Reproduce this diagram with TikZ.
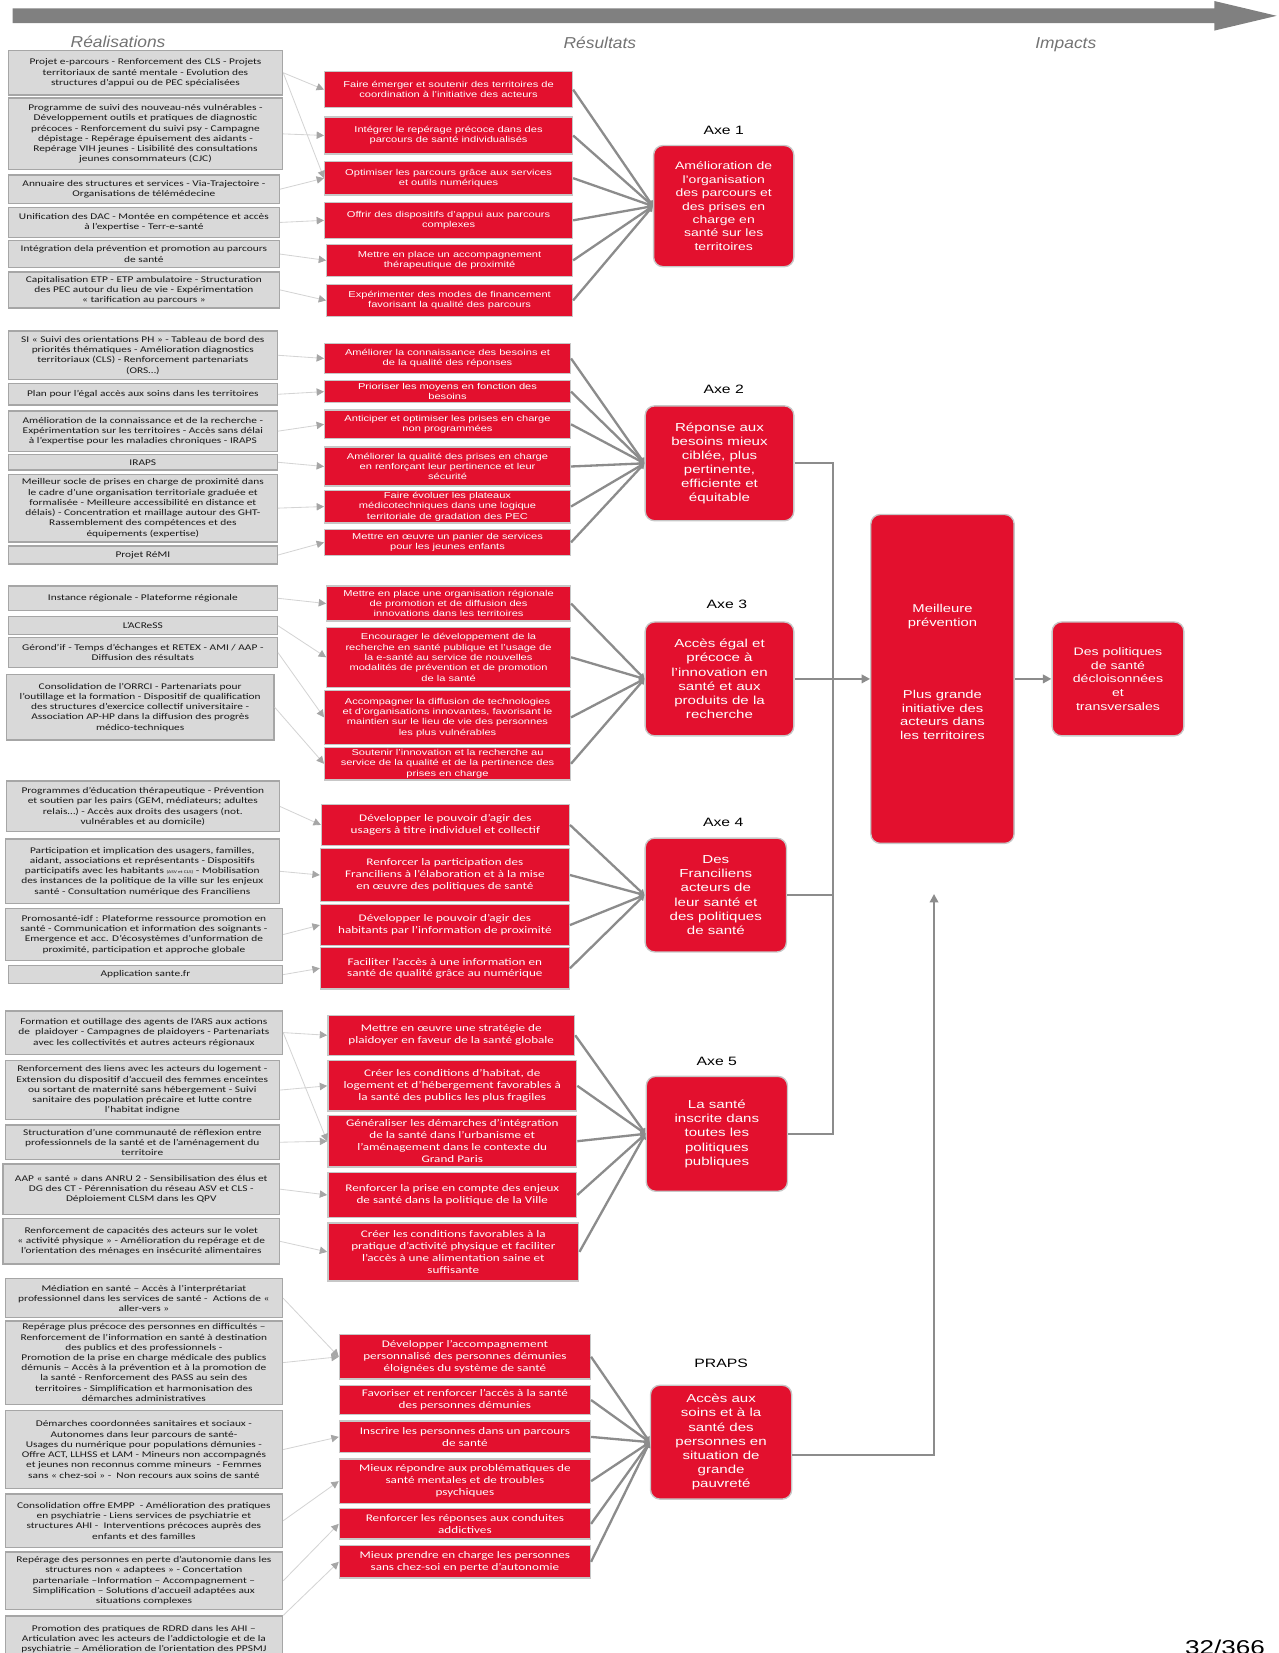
\documentclass[tikz,border=0pt]{standalone}
\usepackage{fontspec}
\setmainfont{Liberation Sans}[FakeStretch=1.3]
\newfontfamily\calibri{Carlito}[FakeStretch=1.3]
\newfontfamily\titrefont{Liberation Sans}[FakeStretch=1.1]
\usetikzlibrary{positioning,arrows.meta}
\definecolor{rougears}{HTML}{E3102E}
\definecolor{grisfond}{HTML}{D9D9D9}
\definecolor{grisbord}{HTML}{A6A6A6}
\definecolor{grislien}{HTML}{D4D4D4}
\definecolor{grisfleche}{HTML}{8C8C8C}
\newcommand{\boite}[6]{\node[#1, minimum width={(#4-#2)*1pt}, minimum height={(#5-#3)*1pt}]
  (#6) at ({(#2+#4)/2},{(#3+#5)/2})}
\tikzset{
  realis/.style={draw=grisbord, line width=1.3pt, fill=grisfond, inner sep=0pt,
    align=center, text=black!90, font=\calibri\fontsize{8.3}{9.7}\selectfont},
  resultat/.style={draw=black!22, line width=1.3pt, fill=rougears, inner sep=0pt,
    align=center, text=white, font=\fontsize{8.1}{9.8}\selectfont},
  resultatc/.style={resultat, font=\calibri\fontsize{9.6}{11.3}\selectfont},
  axe/.style={draw=black!22, line width=1.3pt, fill=rougears, rounded corners=9pt,
    inner sep=0pt, align=center, text=white, font=\fontsize{11}{13.4}\selectfont},
  axelabel/.style={font=\fontsize{11.5}{13}\selectfont, inner sep=0pt},
  titre/.style={font=\titrefont\itshape\fontsize{15}{17}\selectfont, text=black!55},
  lien/.style={draw=grislien, line width=0.8pt,
    -{Triangle[length=7pt,width=7pt,color=black!35]}},
  conv/.style={draw=grisfleche, line width=2.2pt, -{Triangle[length=5pt,width=6pt]}},
  tronc/.style={draw=grisfleche, line width=2.2pt},
  grande/.style={tronc, -{Triangle[length=8pt,width=8pt]}}
}
\begin{document}
\begin{tikzpicture}[x=1pt,y=-1pt]
\useasboundingbox (0,0) rectangle (1213,1568);
\fill[black!50] (12,8) -- (1152,8) -- (1152,1) -- (1211,15) -- (1152,29) -- (1152,22)
  -- (12,22) -- cycle;
\node[titre] (realisations) at (112,40) {Réalisations};
\node[titre] (resultats) at (569,41) {Résultats};
\node[titre] (impacts) at (1011,42) {Impacts};

\boite{realis}{8}{48}{268}{90}{L1} {Projet e-parcours - Renforcement des CLS - Projets\\territoriaux de santé mentale - Evolution des\\structures d’appui ou de PEC spécialisées};
\boite{realis}{8}{93}{268}{161}{L2} {Programme de suivi des nouveau-nés vulnérables -\\Développement outils et pratiques de diagnostic\\précoces - Renforcement du suivi psy - Campagne\\dépistage - Repérage épuisement des aidants -\\Repérage VIH jeunes - Lisibilité des consultations\\jeunes consommateurs (CJC)};
\boite{realis}{8}{166}{265}{193}{L3} {Annuaire des structures et services - Via-Trajectoire -\\Organisations de télémédecine};
\boite{realis}{8}{197}{265}{225}{L4} {Unification des DAC - Montée en compétence et accès\\à l’expertise - Terr-e-santé};
\boite{realis}{8}{228}{265}{254}{L5} {Intégration dela prévention et promotion au parcours\\de santé};
\boite{realis}{8}{258}{265}{292}{L6} {Capitalisation ETP - ETP ambulatoire - Structuration\\des PEC autour du lieu de vie - Expérimentation\\« tarification au parcours »};

\boite{realis}{8}{314}{263}{360}{L7} {SI « Suivi des orientations PH » - Tableau de bord des\\priorités thématiques - Amélioration diagnostics\\territoriaux (CLS) - Renforcement partenariats\\(ORS…)};
\boite{realis}{8}{364}{263}{384}{L8} {Plan pour l’égal accès aux soins dans les territoires};
\boite{realis}{8}{390}{263}{428}{L9} {Amélioration de la connaissance et de la recherche -\\Expérimentation sur les territoires - Accès sans délai\\à l’expertise pour les maladies chroniques - IRAPS};
\boite{realis}{8}{431}{263}{446}{L10} {IRAPS};
\boite{realis}{8}{450}{263}{514}{L11} {Meilleur socle de prises en charge de proximité dans\\le cadre d’une organisation territoriale graduée et\\formalisée - Meilleure accessibilité en distance et\\délais) - Concentration et maillage autour des GHT-\\Rassemblement des compétences et des\\équipements (expertise)};
\boite{realis}{8}{518}{263}{535}{L12} {Projet RéMI};

\boite{realis}{8}{556}{263}{579}{L13} {Instance régionale - Plateforme régionale};
\boite{realis}{8}{585}{263}{602}{L14} {L’ACReSS};
\boite{realis}{8}{605}{263}{633}{L15} {Gérond’if - Temps d’échanges et RETEX - AMI / AAP -\\Diffusion des résultats};
\boite{realis}{6}{640}{260}{702}{L16} {Consolidation de l’ORRCI - Partenariats pour\\l’outillage et la formation - Dispositif de qualification\\des structures d’exercice collectif universitaire -\\Association AP-HP dans la diffusion des progrès\\médico-techniques};

\boite{realis}{6}{741}{265}{789}{L17} {Programmes d’éducation thérapeutique - Prévention\\et soutien par les pairs (GEM, médiateurs; adultes\\relais…) - Accès aux droits des usagers (not.\\vulnérables et au domicile)};
\boite{realis}{5}{796}{265}{857}{L18} {Participation et implication des usagers, familles,\\aidant, associations et représentants - Dispositifs\\participatifs avec les habitants {\fontsize{4}{4}\selectfont(ASV et CLS)} - Mobilisation\\des instances de la politique de la ville sur les enjeux\\santé - Consultation numérique des Franciliens};
\boite{realis}{5}{862}{268}{911}{L19} {Promosanté-idf : Plateforme ressource promotion en\\santé - Communication et information des soignants -\\Emergence et acc. D’écosystèmes d’unformation de\\proximité, participation et approche globale};
\boite{realis}{8}{916}{268}{933}{L20} {Application sante.fr};

\boite{realis}{5}{959}{268}{1000}{L21} {Formation et outillage des agents de l’ARS aux actions\\de~ plaidoyer - Campagnes de plaidoyers - Partenariats\\avec les collectivités et autres acteurs régionaux};
\boite{realis}{5}{1006}{265}{1062}{L22} {Renforcement des liens avec les acteurs du logement -\\Extension du dispositif d’accueil des femmes enceintes\\ou sortant de maternité sans hébergement - Suivi\\sanitaire des population précaire et lutte contre\\l’habitat indigne};
\boite{realis}{5}{1067}{265}{1100}{L23} {Structuration d’une communauté de réflexion entre\\professionnels de la santé et de l’aménagement du\\territoire};
\boite{realis}{3}{1104}{265}{1152}{L24} {AAP « santé » dans ANRU 2 - Sensibilisation des élus et\\DG des CT - Pérennisation du réseau ASV et CLS -\\Déploiement CLSM dans les QPV};
\boite{realis}{3}{1156}{265}{1199}{L25} {Renforcement de capacités des acteurs sur le volet\\« activité physique » - Amélioration du repérage et de\\l’orientation des ménages en insécurité alimentaires};

\boite{realis}{5}{1213}{268}{1250}{L26} {Médiation en santé – Accès à l’interprétariat\\professionnel dans les services de santé -~ Actions de «\\aller-vers »};
\boite{realis}{5}{1253}{268}{1332}{L27} {Repérage plus précoce des personnes en difficultés –\\Renforcement de l’information en santé à destination\\des publics et des professionnels -\\Promotion de la prise en charge médicale des publics\\démunis – Accès à la prévention et à la promotion de\\la santé - Renforcement des PASS au sein des\\territoires - Simplification et harmonisation des\\démarches administratives};
\boite{realis}{5}{1338}{268}{1412}{L28} {Démarches coordonnées sanitaires et sociaux -\\Autonomes dans leur parcours de santé-\\Usages du numérique pour populations démunies -\\Offre ACT, LLHSS et LAM - Mineurs non accompagnés\\et jeunes non reconnus comme mineurs~ - Femmes\\sans « chez-soi » -~ Non recours aux soins de santé};
\boite{realis}{5}{1417}{268}{1468}{L29} {Consolidation offre EMPP~ - Amélioration des pratiques\\en psychiatrie - Liens services de psychiatrie et\\structures AHI -~ Interventions précoces auprès des\\enfants et des familles};
\boite{realis}{5}{1472}{268}{1527}{L30} {Repérage des personnes en perte d’autonomie dans les\\structures non « adaptees » - Concertation\\partenariale –Information – Accompagnement –\\Simplification – Solutions d’accueil adaptées aux\\situations complexes};
\boite{realis}{5}{1533}{268}{1577}{L31} {Promotion des pratiques de RDRD dans les AHI –\\Articulation avec les acteurs de l’addictologie et de la\\psychiatrie – Amélioration de l’orientation des PPSMJ};

\boite{resultat}{308}{68}{543}{102}{M1} {Faire émerger et soutenir des territoires de\\coordination à l’initiative des acteurs};
\boite{resultat}{308}{111}{543}{146}{M2} {Intégrer le repérage précoce dans des\\parcours de santé individualisés};
\boite{resultat}{308}{153}{543}{185}{M3} {Optimiser les parcours grâce aux services\\et outils numériques};
\boite{resultat}{308}{192}{543}{226}{M4} {Offrir des dispositifs d’appui aux parcours\\complexes};
\boite{resultat}{310}{232}{543}{262}{M5} {Mettre en place un accompagnement\\thérapeutique de proximité};
\boite{resultat}{310}{270}{543}{300}{M6} {Expérimenter des modes de financement\\favorisant la qualité des parcours};

\boite{resultat}{308}{326}{541}{354}{M7} {Améliorer la connaissance des besoins et\\de la qualité des réponses};
\boite{resultat}{308}{361}{541}{382}{M8} {Prioriser les moyens en fonction des\\besoins};
\boite{resultat}{308}{389}{541}{416}{M9} {Anticiper et optimiser les prises en charge\\non programmées};
\boite{resultat}{308}{424}{541}{461}{M10} {Améliorer la qualité des prises en charge\\en renforçant leur pertinence et leur\\sécurité};
\boite{resultat}{308}{465}{541}{496}{M11} {Faire évoluer les plateaux\\médicotechniques dans une logique\\territoriale de gradation des PEC};
\boite{resultat}{308}{502}{541}{527}{M12} {Mettre en œuvre un panier de services\\pour les jeunes enfants};

\boite{resultat}{310}{556}{541}{589}{M13} {Mettre en place une organisation régionale\\de promotion et de diffusion des\\innovations dans les territoires};
\boite{resultat}{310}{595}{541}{652}{M14} {Encourager le développement de la\\recherche en santé publique et l’usage de\\la e-santé au service de nouvelles\\modalités de prévention et de promotion\\de la santé};
\boite{resultat}{308}{655}{541}{706}{M15} {Accompagner la diffusion de technologies\\et d’organisations innovantes, favorisant le\\maintien sur le lieu de vie des personnes\\les plus vulnérables};
\boite{resultat}{308}{709}{541}{740}{M16} {Soutenir l’innovation et la recherche au\\service de la qualité et de la pertinence des\\prises en charge};

\boite{resultatc}{305}{763}{540}{802}{M17} {Développer le pouvoir d’agir des\\usagers à titre individuel et collectif};
\boite{resultatc}{304}{805}{540}{855}{M18} {Renforcer la participation des\\Franciliens à l’élaboration et à la mise\\en œuvre des politiques de santé};
\boite{resultatc}{304}{858}{540}{897}{M19} {Développer le pouvoir d’agir des\\habitants par l’information de proximité};
\boite{resultatc}{304}{899}{540}{938}{M20} {Faciliter l’accès à une information en\\santé de qualité grâce au numérique};

\boite{resultatc}{311}{963}{545}{1001}{M21} {Mettre en œuvre une stratégie de\\plaidoyer en faveur de la santé globale};
\boite{resultatc}{311}{1006}{547}{1054}{M22} {Créer les conditions d’habitat, de\\logement et d’hébergement favorables à\\la santé des publics les plus fragiles};
\boite{resultatc}{311}{1058}{547}{1107}{M23} {Généraliser les démarches d’intégration\\de la santé dans l’urbanisme et\\l’aménagement dans le contexte du\\Grand Paris};
\boite{resultatc}{311}{1112}{547}{1155}{M24} {Renforcer la prise en compte des enjeux\\de santé dans la politique de la Ville};
\boite{resultatc}{311}{1160}{549}{1215}{M25} {Créer les conditions favorables à la\\pratique d’activité physique et faciliter\\l’accès à une alimentation saine et\\suffisante};

\boite{resultatc}{322}{1266}{560}{1308}{M26} {Développer l’accompagnement\\personnalisé des personnes démunies\\éloignées du système de santé};
\boite{resultatc}{322}{1314}{560}{1342}{M27} {Favoriser et renforcer l’accès à la santé\\des personnes démunies};
\boite{resultatc}{322}{1348}{560}{1378}{M28} {Inscrire les personnes dans un parcours\\de santé};
\boite{resultatc}{322}{1384}{560}{1426}{M29} {Mieux répondre aux problématiques de\\santé mentales et de troubles\\psychiques};
\boite{resultatc}{322}{1431}{560}{1460}{M30} {Renforcer les réponses aux conduites\\addictives};
\boite{resultatc}{322}{1466}{560}{1497}{M31} {Mieux prendre en charge les personnes\\sans chez-soi en perte d’autonomie};

\boite{axe, font=\fontsize{10.2}{12.7}\selectfont}{620}{138}{753}{253}{A1} {Amélioration de\\l’organisation\\des parcours et\\des prises en\\charge en\\santé sur les\\territoires};
\boite{axe}{612}{385}{753}{494}{A2} {Réponse aux\\besoins mieux\\ciblée, plus\\pertinente,\\efficiente et\\équitable};
\boite{axe}{612}{590}{753}{698}{A3} {Accès égal et\\précoce à\\l’innovation en\\santé et aux\\produits de la\\recherche};
\boite{axe}{612}{795}{746}{903}{A4} {Des\\Franciliens\\acteurs de\\leur santé et\\des politiques\\de santé};
\boite{axe}{613}{1021}{747}{1130}{A5} {La santé\\inscrite dans\\toutes les\\politiques\\publiques};
\boite{axe}{617}{1314}{751}{1422}{A6} {Accès aux\\soins et à la\\santé des\\personnes en\\situation de\\grande\\pauvreté};
\boite{axe, font=\fontsize{10.8}{13}\selectfont}{826}{488}{962}{800}{Meil} {Meilleure\\prévention\\[55pt]Plus grande\\initiative des\\acteurs dans\\les territoires\\[0pt]\mbox{}};
\boite{axe, font=\fontsize{10.3}{13}\selectfont}{998}{590}{1123}{698}{Pol} {Des politiques\\de santé\\décloisonnées\\et\\transversales};

\node[axelabel, above=9pt of A1] (T1) {Axe 1};
\node[axelabel, above=11pt of A2, xshift=4pt] (T2) {Axe 2};
\node[axelabel, above=12pt of A3, xshift=7pt] (T3) {Axe 3};
\node[axelabel, above=10pt of A4, xshift=7pt] (T4) {Axe 4};
\node[axelabel, above=9pt of A5] (T5) {Axe 5};
\node[axelabel, above=16pt of A6] (T6) {PRAPS};

\node[anchor=north, inner sep=0pt, font=\fontsize{19}{19}\selectfont] (page) at (1162,1555) {32/366};

\draw[lien] (L1.east) -- (M1.west);
\draw[lien] (L1.east) -- (M3.west);
\draw[lien] (L2.east) -- (M2.west);
\draw[lien] (L3.east) -- (M3.west);
\draw[lien] (L4.east) -- (M4.west);
\draw[lien] (L5.east) -- (M5.west);
\draw[lien] (L6.east) -- (M6.west);
\draw[lien] (L7.east) -- (M7.west);
\draw[lien] (L8.east) -- (M8.west);
\draw[lien] (L9.east) -- (M9.west);
\draw[lien] (L10.east) -- (M10.west);
\draw[lien] (L11.east) -- (M11.west);
\draw[lien] (L12.east) -- (M12.west);
\draw[lien] (L13.east) -- (M13.west);
\draw[lien] (L14.east) -- (M14.west);
\draw[lien] (L15.east) -- (M15.west);
\draw[lien] (L16.east) -- (M16.west);
\draw[lien] (L17.east) -- (M17.west);
\draw[lien] (L18.east) -- (M18.west);
\draw[lien] (L19.east) -- (M19.west);
\draw[lien] (L20.east) -- (M20.west);
\draw[lien] (L21.east) -- (M21.west);
\draw[lien] (L21.east) -- (M23.west);
\draw[lien] (L22.east) -- (M22.west);
\draw[lien] (L23.east) -- (M23.west);
\draw[lien] (L24.east) -- (M24.west);
\draw[lien] (L25.east) -- (M25.west);
\draw[lien] (L26.east) -- (M26.west);
\draw[lien] (L27.east) -- (M26.west);
\draw[lien] (L28.east) -- (M28.west);
\draw[lien] (L29.east) -- (M29.west);
\draw[lien] (L30.east) -- (M30.west);
\draw[lien] (L31.north east) -- (M31.west);

\foreach \m in {1,...,6} {\draw[conv] (M\m.east) -- (A1.west);}
\foreach \m in {7,...,12} {\draw[conv] (M\m.east) -- (A2.west);}
\foreach \m in {13,...,16} {\draw[conv] (M\m.east) -- (A3.west);}
\foreach \m in {17,...,20} {\draw[conv] (M\m.east) -- (A4.west);}
\foreach \m in {21,...,25} {\draw[conv] (M\m.east) -- (A5.west);}
\foreach \m in {26,...,31} {\draw[conv] (M\m.east) -- (A6.west);}

\coordinate (noeud) at (790,644);
\coordinate (pointe) at (886,848);
\draw[tronc] (A2.east) -| (noeud) |- (A5.east);
\draw[tronc] (A4.east) -- (A4.east -| noeud);
\draw[grande] (A3.east) -- (Meil.west);
\draw[grande] (Meil.east) -- (Pol.west);
\draw[grande] ([yshift=-12pt]A6.east) -| (pointe);
\end{tikzpicture}
\end{document}
